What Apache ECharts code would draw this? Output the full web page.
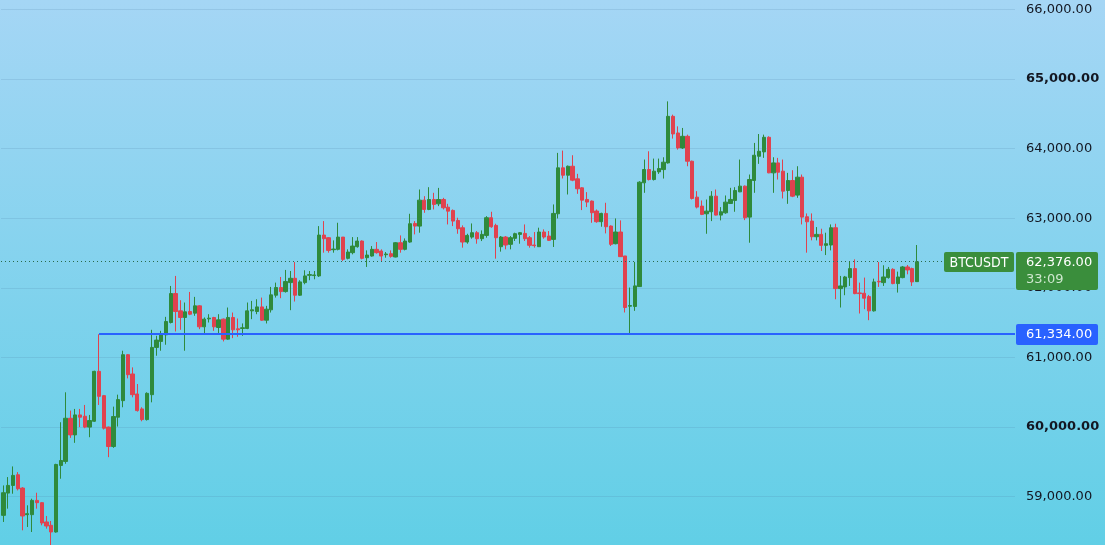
<!DOCTYPE html>
<html>
<head>
<meta charset="utf-8">
<script src="https://cdn.jsdelivr.net/npm/echarts@6/dist/echarts.min.js"></script>
<style>
  html, body { margin: 0; padding: 0; }
  #main { width: 1105px; height: 545px; }
</style>
</head>
<body>
<div id="main"></div>
<script>
// BTCUSDT 蜡烛图数据（开、收、低、高）
var opens = [58732,59052,59162,59315,59124,58742,58742,58947,58914,58637,58589,58493,59449,59506,60127,59888,60175,60156,60000,60084,
  60801,60452,60000,59721,60142,60380,61040,60763,60476,60261,60108,60466,61145,61231,61326,61503,61919,61670,61575,61661,
  61637,61742,61441,61555,61575,61431,61551,61264,61575,61412,61417,61417,61670,61661,61727,61536,61685,61895,62005,61947,
  62076,62138,61895,62076,62181,62177,62172,62759,62721,62549,62554,62730,62425,62506,62592,62673,62434,62458,62554,62530,
  62477,62492,62444,62649,62554,62659,62926,62888,63261,63127,63270,63208,63270,63160,63113,62969,62864,62659,62730,62793,
  62707,62754,63008,62898,62592,62731,62626,62712,62769,62783,62721,62616,62592,62803,62745,62697,63065,63725,63619,63748,
  63567,63438,63271,63247,63104,62951,63070,62889,62635,62803,62459,61737,61733,62019,63510,63701,63557,63667,63700,63796,
  64465,64226,64011,64178,63820,63304,63175,63065,63094,63318,63046,63079,63213,63256,63380,63462,63017,63543,63891,63954,
  64164,63653,63796,63677,63399,63543,63333,63591,63022,62960,62735,62769,62611,62616,62864,61990,62014,62148,62277,61928,
  61923,61875,61670,62095,62076,62148,62267,62062,62148,62301,62277,62090];
var closes = [59057,59162,59306,59114,58723,58756,58947,58914,58622,58579,58493,59463,59520,60127,59888,60175,60142,60000,60094,60801,
  60442,59984,59721,60151,60395,61040,60753,60466,60237,60108,60485,61145,61250,61336,61517,61919,61661,61575,61656,61622,
  61742,61441,61551,61565,61441,61541,61264,61575,61398,61398,61427,61670,61685,61727,61536,61694,61900,62005,61947,62091,
  62138,61895,62086,62172,62191,62186,62759,62707,62539,62558,62730,62410,62515,62601,62673,62425,62472,62554,62506,62458,
  62487,62453,62649,62554,62673,62922,62888,63261,63127,63270,63199,63270,63151,63103,62960,62850,62659,62754,62793,62707,
  62769,63008,62879,62721,62731,62616,62721,62779,62793,62707,62612,62607,62803,62731,62683,63070,63725,63619,63748,63548,
  63424,63261,63233,63080,62951,63070,62879,62626,62803,62449,61718,61747,62029,63519,63701,63557,63677,63715,63806,64465,
  64212,64011,64178,63820,63285,63161,63056,63103,63318,63046,63094,63232,63271,63399,63462,63008,63557,63906,63963,64164,
  63653,63796,63662,63390,63543,63318,63591,63017,62950,62735,62769,62611,62635,62864,61990,62028,62157,62277,61918,61918,
  61852,61670,62086,62086,62157,62267,62062,62157,62301,62258,62086,62376];
var lows = [58637,58828,59043,59090,58517,58565,58493,58828,58589,58541,58300,58484,59258,59473,59845,59774,60000,59984,59855,60075,
  60318,59965,59568,59702,60008,60285,60700,60428,60223,60084,60094,60356,61025,61097,61183,61489,61374,61398,61097,61608,
  61599,61407,61336,61503,61383,61336,61231,61255,61278,61298,61312,61407,61551,61622,61527,61489,61646,61861,61852,61933,
  61680,61804,61885,62052,62110,62124,62157,62506,62506,62506,62539,62387,62410,62482,62578,62410,62301,62449,62492,62387,
  62434,62434,62439,62506,62539,62649,62769,62793,63079,63117,63127,63175,63127,62912,62888,62778,62578,62635,62707,62635,
  62673,62721,62864,62420,62521,62554,62554,62674,62635,62674,62578,62578,62588,62707,62674,62588,62998,63572,63342,63533,
  63352,63118,63161,62936,62936,62879,62783,62602,62626,62444,61647,61334,61670,62014,63366,63543,63543,63638,63571,63786,
  64145,63987,63997,63748,63270,63142,63046,62778,62960,63041,62970,63065,63208,63094,63376,62974,62649,63366,63782,63868,
  63648,63366,63557,63285,63208,63304,63294,62912,62506,62683,62683,62530,62472,62539,61837,61718,61895,62028,61909,61632,
  61694,61536,61660,62014,62028,62133,62052,61933,62138,62195,62028,62090];
var highs = [59162,59282,59435,59353,59138,58876,58971,59057,58923,58723,58651,59473,60070,60500,60237,60261,60261,60318,60175,60810,
  61334,60462,60008,60294,60466,61097,61049,60858,60619,60285,60500,61398,61312,61383,61584,62028,62172,61823,61790,61942,
  61871,61751,61575,61622,61584,61622,61560,61718,61646,61560,61489,61790,61813,61837,61861,61742,62014,62076,62157,62258,
  62243,62372,62110,62253,62243,62243,62888,62960,62730,62683,62936,62730,62554,62730,62730,62683,62539,62601,62659,62554,
  62515,62539,62659,62754,62711,63065,62960,63414,63318,63447,63366,63437,63294,63208,63127,63008,62898,62778,62926,62817,
  62826,63031,63094,62922,62745,62745,62745,62793,62803,62912,62745,62803,62865,62841,62817,63199,63940,63973,63758,63906,
  63639,63447,63376,63256,63127,63080,63223,62898,62998,62970,62459,62005,62373,63533,63844,63963,63858,63858,63877,64680,
  64489,64321,64298,64202,63829,63390,63256,63270,63390,63414,63161,63328,63438,63447,63844,63471,63629,64083,64211,64202,
  64178,63877,63868,63844,63653,63691,63748,63629,63070,63070,62874,62850,62793,62912,62922,62172,62172,62372,62410,62076,
  62148,61899,62133,62372,62325,62301,62282,62234,62315,62329,62291,62616];

var supportLevel = 61334;     // 蓝色水平线
var symbolName = 'BTCUSDT';
var countdown = '33:09';
var supportStart = 20;        // 水平线起点（第21根K线）

var upColor = '#2f8a3c';
var downColor = '#e0424f';

var categories = opens.map(function (v, i) { return i; });
var candleData = opens.map(function (o, i) {
  return [o, closes[i], lows[i], highs[i]];
});
var lastClose = closes[closes.length - 1];

function fmtPrice(v) {
  return v.toLocaleString('en-US', { minimumFractionDigits: 2, maximumFractionDigits: 2 });
}

var chart = echarts.init(document.getElementById('main'));
var option = {
  animation: false,
  backgroundColor: new echarts.graphic.LinearGradient(0, 0, 0, 1, [
    { offset: 0, color: '#a5d6f5' },
    { offset: 1, color: '#61cfe6' }
  ]),
  grid: {
    left: 1,
    width: 1014,
    top: 9.5,
    bottom: -21.3,
    outerBoundsMode: 'none'
  },
  xAxis: {
    type: 'category',
    data: categories,
    max: 211,
    axisLine: { show: false },
    axisTick: { show: false },
    axisLabel: { show: false },
    splitLine: { show: false }
  },
  yAxis: {
    type: 'value',
    position: 'right',
    min: 58000,
    max: 66000,
    interval: 1000,
    axisLine: { show: false },
    axisTick: { show: false },
    splitLine: {
      lineStyle: { color: 'rgba(80,130,165,0.18)', width: 1 }
    },
    axisLabel: {
      margin: 11,
      align: 'left',
      showMinLabel: false,
      fontFamily: 'DejaVu Sans',
      fontSize: 13,
      color: '#131722',
      formatter: function (v) {
        if (v % 5000 === 0) return '{b|' + fmtPrice(v) + '}';
        return fmtPrice(v);
      },
      rich: {
        b: { fontFamily: 'DejaVu Sans', fontSize: 13, fontWeight: 'bold', color: '#131722' }
      }
    }
  },
  series: [
    {
      name: symbolName,
      type: 'candlestick',
      data: candleData,
      barWidth: 3.8,
      itemStyle: {
        color: upColor,
        color0: downColor,
        borderColor: upColor,
        borderColor0: downColor,
        borderWidth: 1
      },
      markLine: {
        silent: true,
        symbol: ['none', 'none'],
        label: { show: false },
        data: [
          { yAxis: lastClose }
        ],
        lineStyle: { color: '#2a6a4a', type: [1, 3], width: 1 }
      }
    }
  ]
};
chart.setOption(option);

// 蓝色支撑线与右侧价格标签
var yLast = Math.round(chart.convertToPixel({ yAxisIndex: 0 }, lastClose));
var ySup = Math.round(chart.convertToPixel({ yAxisIndex: 0 }, supportLevel));
var xSup = chart.convertToPixel({ xAxisIndex: 0 }, supportStart);
var labelFont = '13px "DejaVu Sans"';
chart.setOption({
  graphic: [
    {
      type: 'line', z: 90,
      shape: { x1: xSup, y1: ySup, x2: 1015, y2: ySup },
      style: { stroke: '#2962ff', lineWidth: 2 }
    },
    {
      type: 'rect', z: 100,
      shape: { x: 944, y: yLast - 10, width: 70, height: 20, r: 2 },
      style: { fill: '#3a8e3c' }
    },
    {
      type: 'text', z: 101,
      x: 979, y: yLast + 1,
      style: { text: symbolName, fill: '#ffffff', font: '14px "DejaVu Sans Condensed"', align: 'center', verticalAlign: 'middle' }
    },
    {
      type: 'rect', z: 100,
      shape: { x: 1016, y: yLast - 10, width: 82, height: 38, r: 2 },
      style: { fill: '#3a8e3c' }
    },
    {
      type: 'text', z: 101,
      x: 1026, y: yLast + 1,
      style: { text: fmtPrice(lastClose), fill: '#ffffff', font: labelFont, align: 'left', verticalAlign: 'middle' }
    },
    {
      type: 'text', z: 101,
      x: 1026, y: yLast + 18,
      style: { text: countdown, fill: '#cfe8cf', font: labelFont, align: 'left', verticalAlign: 'middle' }
    },
    {
      type: 'rect', z: 100,
      shape: { x: 1016, y: ySup - 10, width: 82, height: 21, r: 2 },
      style: { fill: '#2962ff' }
    },
    {
      type: 'text', z: 101,
      x: 1026, y: ySup + 1,
      style: { text: fmtPrice(supportLevel), fill: '#ffffff', font: labelFont, align: 'left', verticalAlign: 'middle' }
    }
  ]
});
</script>
</body>
</html>
